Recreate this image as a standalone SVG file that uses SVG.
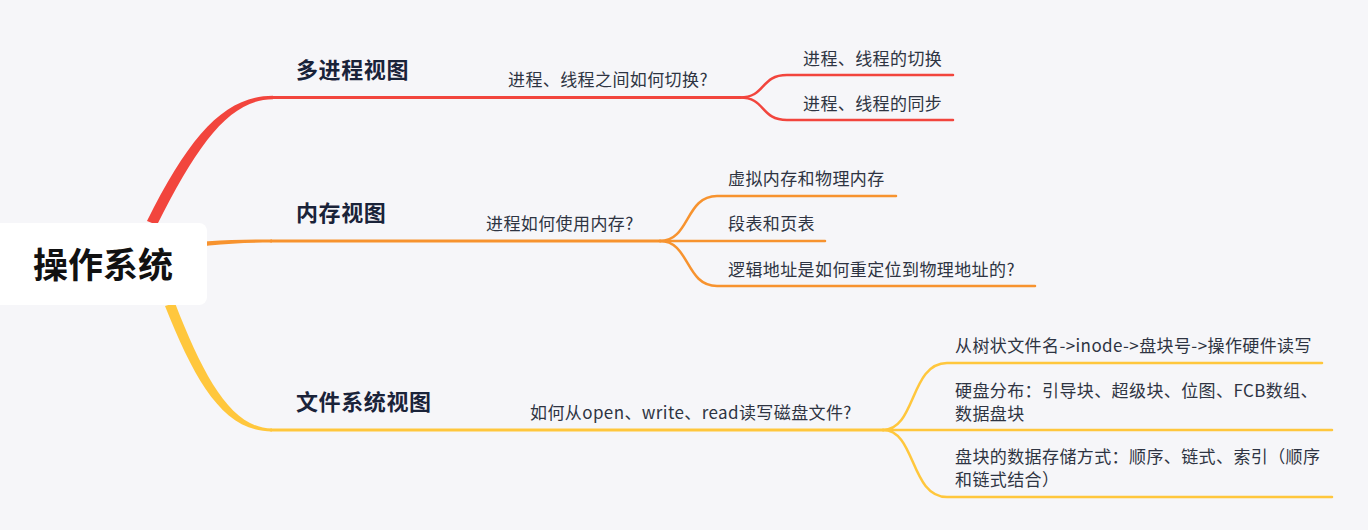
<svg xmlns="http://www.w3.org/2000/svg" width="1368" height="530" viewBox="0 0 1368 530">
<style>
text{font-family:"Noto Sans CJK SC","Noto Sans",sans-serif}
.lbl{font-size:17px;fill:#2e3442;letter-spacing:0.4px}
.hd{font-size:22px;font-weight:bold;fill:#1a2339;letter-spacing:0.6px}
.root{font-size:35px;font-weight:bold;fill:#111111}
.ln{fill:none;stroke-linecap:round}
.r{stroke:#f2453d}
.o{stroke:#f7932f}
.y{stroke:#ffc73d}
</style>
<rect x="0" y="0" width="1368" height="530" fill="#f6f6f9"/>
<g id="connectors">
  <path d="M147,221 C190,135 225,95.8 273,95.8 L273,99.2 C231,99.2 199,141 157,225 Z" fill="#f2453d"/>
  <path class="ln r" d="M272,97.5 L740,97.5" stroke-width="3"/>
  <path class="ln r" d="M740,97.5 C766,97.5 760,75 787,75 L953,75" stroke-width="2.5"/>
  <path class="ln r" d="M740,97.5 C766,97.5 760,120 787,120 L953,120" stroke-width="2.5"/>
  <path d="M160,246 C200,241 230,239.5 272,239.5 L272,242.5 C232,242.5 202,245 160,253 Z" fill="#f7932f"/>
  <path class="ln o" d="M271,241 L660,241" stroke-width="3"/>
  <path class="ln o" d="M660,241 C690,241 685,196 717,196 L896,196" stroke-width="2.5"/>
  <path class="ln o" d="M660,241 L825,241" stroke-width="2.5"/>
  <path class="ln o" d="M660,241 C690,241 685,286 717,286 L1035,286" stroke-width="2.5"/>
  <path d="M165,306 C195,381 223,431.5 272,431.5 L272,428.5 C232,428.5 204,378 175,303 Z" fill="#ffc73d"/>
  <path class="ln y" d="M271,430 L883,430" stroke-width="3"/>
  <path class="ln y" d="M883,430 C916,430 910,363 947,363 L1322,363" stroke-width="2.5"/>
  <path class="ln y" d="M883,430 L1332,430" stroke-width="2.5"/>
  <path class="ln y" d="M883,430 C916,430 910,497 947,497 L1332,497" stroke-width="2.5"/>
</g>
<g id="root">
  <rect x="-10" y="223" width="217" height="82" rx="8" fill="#ffffff"/>
  <text class="root" x="103" y="278" text-anchor="middle">操作系统</text>
</g>
<g id="n-multiprocess">
  <text class="hd" x="296" y="78">多进程视图</text>
</g>
<g id="n-switch-q">
  <text class="lbl" x="508" y="86">进程、线程之间如何切换?</text>
</g>
<g id="n-switch">
  <text class="lbl" x="803" y="65">进程、线程的切换</text>
</g>
<g id="n-sync">
  <text class="lbl" x="803" y="109.5">进程、线程的同步</text>
</g>
<g id="n-memory">
  <text class="hd" x="296" y="220.5">内存视图</text>
</g>
<g id="n-mem-q">
  <text class="lbl" x="486" y="230">进程如何使用内存?</text>
</g>
<g id="n-virtual">
  <text class="lbl" x="728" y="185">虚拟内存和物理内存</text>
</g>
<g id="n-segpage">
  <text class="lbl" x="728" y="230">段表和页表</text>
</g>
<g id="n-reloc">
  <text class="lbl" x="728" y="276">逻辑地址是如何重定位到物理地址的?</text>
</g>
<g id="n-fs">
  <text class="hd" x="296" y="409.5">文件系统视图</text>
</g>
<g id="n-fs-q">
  <text class="lbl" x="530" y="419">如何从open、write、read读写磁盘文件?</text>
</g>
<g id="n-path">
  <text class="lbl" x="955" y="352">从树状文件名-&gt;inode-&gt;盘块号-&gt;操作硬件读写</text>
</g>
<g id="n-layout">
  <text class="lbl" x="955" y="397">硬盘分布：引导块、超级块、位图、FCB数组、</text>
  <text class="lbl" x="955" y="419.5">数据盘块</text>
</g>
<g id="n-storage">
  <text class="lbl" x="955" y="463">盘块的数据存储方式：顺序、链式、索引（顺序</text>
  <text class="lbl" x="955" y="486">和链式结合）</text>
</g>
</svg>
